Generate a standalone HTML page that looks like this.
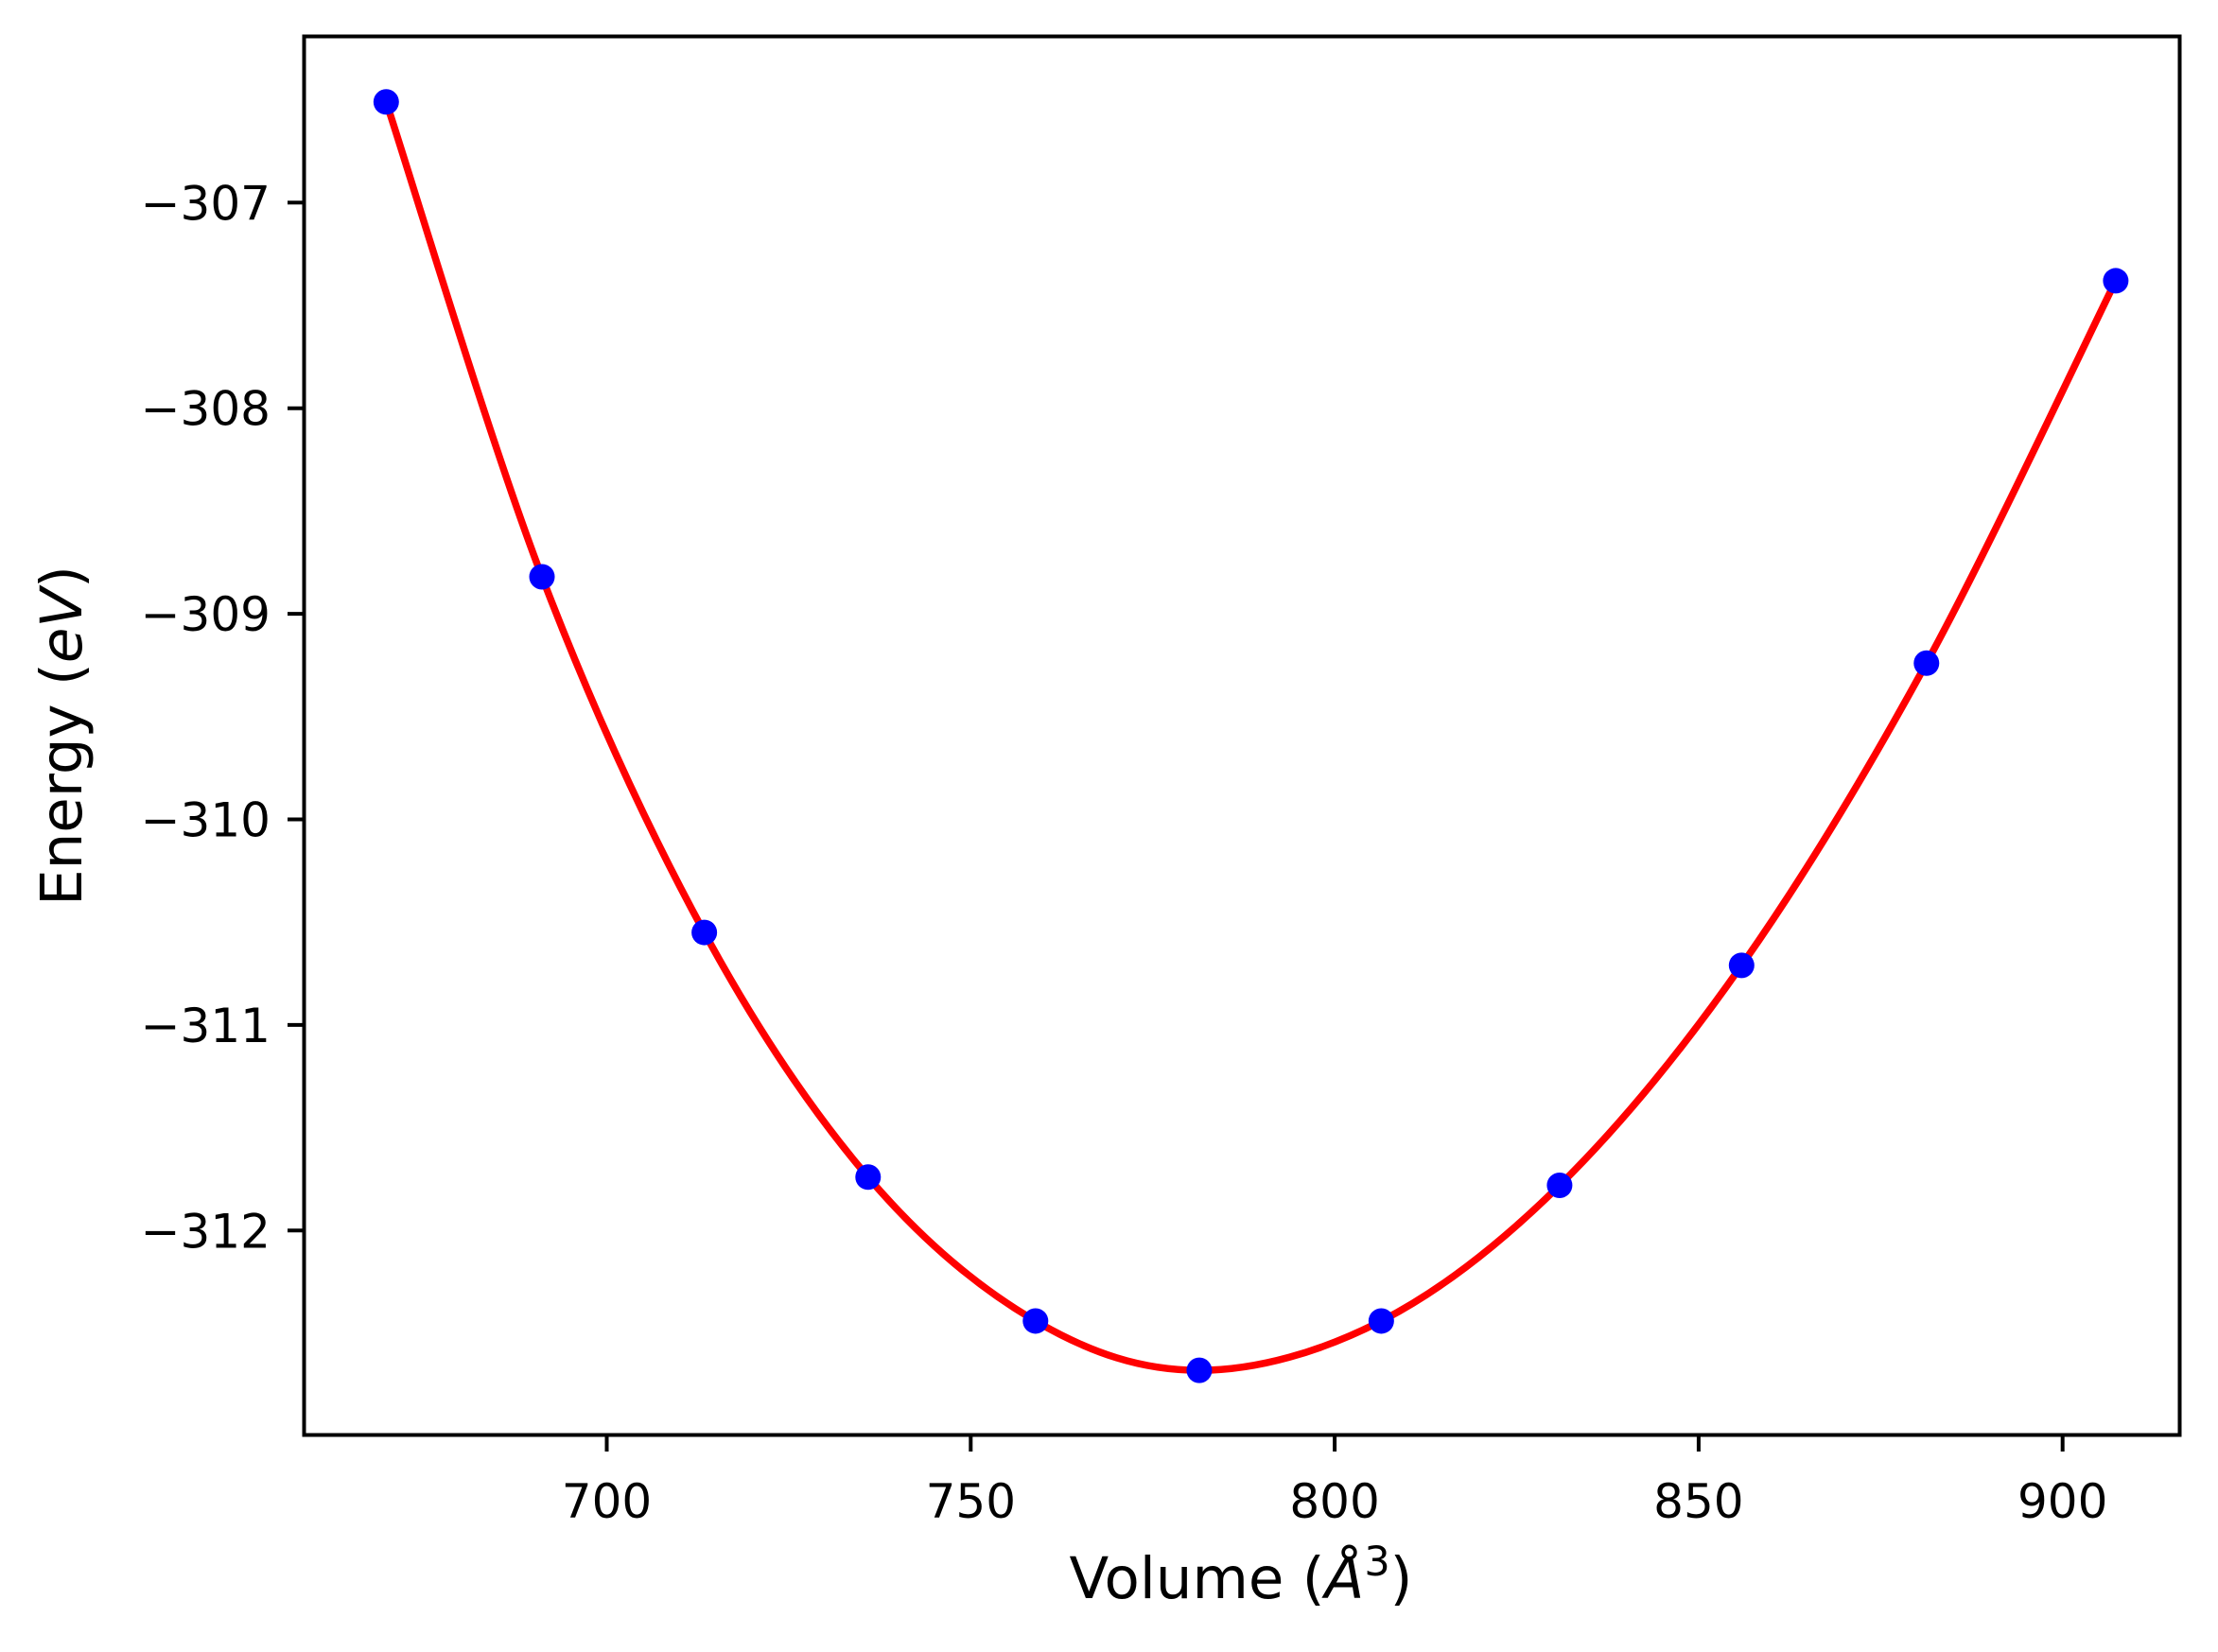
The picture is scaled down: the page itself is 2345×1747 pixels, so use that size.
<!DOCTYPE html>
<html><head><meta charset="utf-8"><style>
html,body{margin:0;padding:0;background:#fff;}
svg{display:block;font-family:"DejaVu Sans","Liberation Sans",sans-serif;}
</style></head><body>
<svg id="chart" width="2345" height="1747" viewBox="0 0 2345 1747" xmlns="http://www.w3.org/2000/svg">
<rect x="0" y="0" width="2345" height="1747" fill="#fff"/>
<g id="curve"></g>
<g id="points"></g>
<rect x="321.5" y="38.5" width="1983" height="1479" fill="none" stroke="#000" stroke-width="4"/>
<g id="xticks"></g>
<g id="yticks"></g>
<text x="1312" y="1690" font-size="61" text-anchor="middle">Volume (<tspan font-style="italic">Å</tspan><tspan font-size="43" dy="-24">3</tspan><tspan dy="24">)</tspan></text>
<text transform="translate(86,778) rotate(-90)" font-size="61" text-anchor="middle">Energy (<tspan font-style="italic">eV</tspan>)</text>
</svg>
<script>
const volumes = [669.7, 691.1, 713.4, 735.9, 758.9, 781.4, 806.4, 830.9, 855.9, 881.3, 907.3];
const energies = [-306.51, -308.82, -310.55, -311.74, -312.44, -312.68, -312.44, -311.78, -310.71, -309.24, -307.38];
const xTicks = [700, 750, 800, 850, 900];
const yTicks = [-307, -308, -309, -310, -311, -312];

const NS = "http://www.w3.org/2000/svg";
function xPx(v){ return 641.5 + (v - 700) * 7.696; }
function yPx(e){ return 214.3 + (-307 - e) * 217.4; }

// fit curve via Catmull-Rom spline through data
const pts = volumes.map((v,i)=>[xPx(v), yPx(energies[i])]);
let d = "M" + pts[0][0] + "," + pts[0][1];
for (let i=0;i<pts.length-1;i++){
  const p0 = pts[Math.max(0,i-1)], p1 = pts[i], p2 = pts[i+1], p3 = pts[Math.min(pts.length-1,i+2)];
  const c1x = p1[0] + (p2[0]-p0[0])/6, c1y = p1[1] + (p2[1]-p0[1])/6;
  const c2x = p2[0] - (p3[0]-p1[0])/6, c2y = p2[1] - (p3[1]-p1[1])/6;
  d += " C" + c1x + "," + c1y + " " + c2x + "," + c2y + " " + p2[0] + "," + p2[1];
}
const path = document.createElementNS(NS, "path");
path.setAttribute("d", d);
path.setAttribute("fill", "none");
path.setAttribute("stroke", "#ff0000");
path.setAttribute("stroke-width", "7.5");


document.getElementById("curve").appendChild(path);

volumes.forEach((v,i)=>{
  const c = document.createElementNS(NS, "circle");
  c.setAttribute("cx", xPx(v));
  c.setAttribute("cy", yPx(energies[i]));
  c.setAttribute("r", "13.5");
  c.setAttribute("fill", "#0000ff");
  
  
  document.getElementById("points").appendChild(c);
});

xTicks.forEach(t=>{
  const g = document.getElementById("xticks");
  const l = document.createElementNS(NS, "line");
  l.setAttribute("x1", xPx(t)); l.setAttribute("x2", xPx(t));
  l.setAttribute("y1", 1517); l.setAttribute("y2", 1535);
  l.setAttribute("stroke", "#000"); l.setAttribute("stroke-width", "4");
  
  
  g.appendChild(l);
  const tx = document.createElementNS(NS, "text");
  tx.setAttribute("x", xPx(t)); tx.setAttribute("y", 1605);
  tx.setAttribute("font-size", "50"); tx.setAttribute("text-anchor", "middle");
  tx.textContent = String(t);
  
  
  g.appendChild(tx);
});

yTicks.forEach(t=>{
  const g = document.getElementById("yticks");
  const l = document.createElementNS(NS, "line");
  l.setAttribute("x1", 304); l.setAttribute("x2", 322);
  l.setAttribute("y1", yPx(t)); l.setAttribute("y2", yPx(t));
  l.setAttribute("stroke", "#000"); l.setAttribute("stroke-width", "4");
  
  
  g.appendChild(l);
  const tx = document.createElementNS(NS, "text");
  tx.setAttribute("x", 286); tx.setAttribute("y", yPx(t) + 18);
  tx.setAttribute("font-size", "50"); tx.setAttribute("text-anchor", "end");
  tx.textContent = "\u2212" + String(Math.abs(t));
  
  
  g.appendChild(tx);
});
</script>
</body></html>
